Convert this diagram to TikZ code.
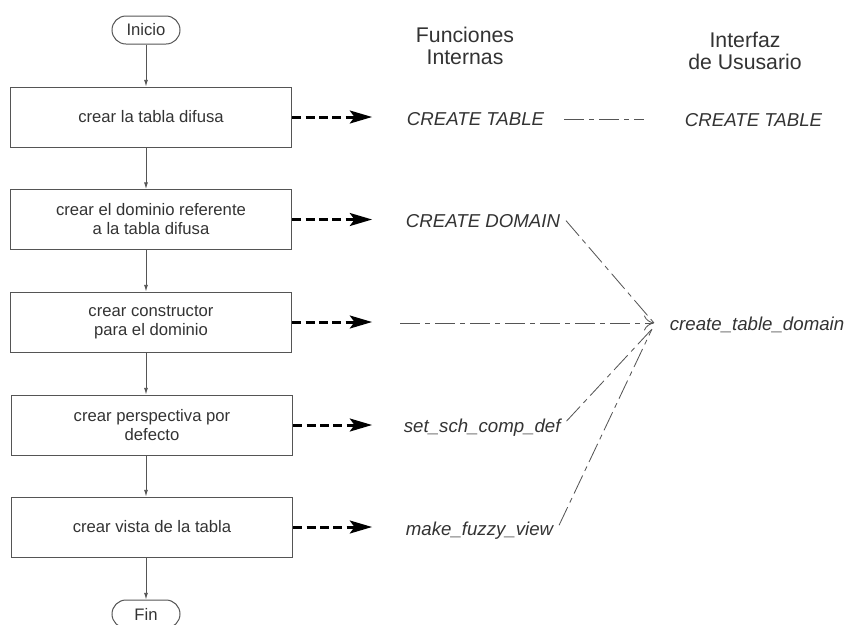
\documentclass[tikz,border=0pt]{standalone}
\usepackage{fontspec}
\setmainfont{Liberation Sans}
\usetikzlibrary{arrows.meta}
\usetikzlibrary{positioning}

\definecolor{tinta}{HTML}{333333}
\definecolor{borde}{HTML}{555555}

\tikzset{
    caja/.style={draw=borde, line width=0.6pt, minimum width=169pt, minimum height=36pt,
        align=center, text=tinta, font=\fontsize{10}{11.4}\selectfont},
    terminal/.style={draw=borde, line width=0.6pt, rounded corners=8.4pt, minimum width=40.8pt,
        minimum height=16.8pt, text=tinta, font=\fontsize{10}{12}\selectfont},
    paso/.style={draw=borde, line width=0.5pt, -{Latex[length=4pt,width=2.4pt]}},
    flecha/.style={draw=black, line width=1.8pt, dash pattern=on 5.4pt off 2.6pt,
        -{Stealth[length=13.5pt,width=8pt,inset=3pt,line width=0pt]}},
    enlace/.style={draw=borde, line width=0.5pt, dash pattern=on 12pt off 3pt on 3pt off 3pt},
    funcion/.style={anchor=base west, text=tinta, font=\fontsize{11.2}{13}\selectfont\itshape},
    titulo/.style={align=center, text=tinta, font=\fontsize{12.75}{13.5}\selectfont},
}

\begin{document}
\begin{tikzpicture}[x=0.6pt,y=-0.6pt]
    \useasboundingbox (0,0) rectangle (845,624);

    % flujo principal
    \node[terminal] (inicio) at (146,30) {Inicio};
    \node[caja] (tabla) at (151,117) {crear la tabla difusa};
    \node[caja] (dominio) at (151,219.5) {crear el dominio referente\\a la tabla difusa};
    \node[caja] (constructor) at (151,322) {crear constructor\\para el dominio};
    \node[caja] (perspectiva) at (152,425) {crear perspectiva por\\defecto};
    \node[caja] (vista) at (152,527) {crear vista de la tabla};
    \node[terminal] (fin) at (146,614) {Fin};

    \draw[paso] (inicio.south) -- (inicio.south |- tabla.north);
    \draw[paso] (inicio.south |- tabla.south) -- (inicio.south |- dominio.north);
    \draw[paso] (inicio.south |- dominio.south) -- (inicio.south |- constructor.north);
    \draw[paso] (inicio.south |- constructor.south) -- (inicio.south |- perspectiva.north);
    \draw[paso] (inicio.south |- perspectiva.south) -- (inicio.south |- vista.north);
    \draw[paso] (inicio.south |- vista.south) -- (fin.north);

    % flechas hacia las funciones
    \foreach \n in {tabla,dominio,constructor,perspectiva,vista}{
        \coordinate (\n-f) at (372,0 |- \n.east);
        \draw[flecha] (\n.east) -- (\n-f);
    }

    % columnas
    \node[titulo] (internas) at (465,46) {Funciones\\Internas};
    \node[titulo] (interfaz) at (745,51) {Interfaz\\de Ususario};

    \node[funcion] (ctable) at (401,125) {CREATE TABLE};
    \node[funcion] (cdomain) at (400,227) {CREATE DOMAIN};
    \node[funcion] (schcomp) at (398,432) {set\_sch\_comp\_def};
    \node[funcion] (fuzzy) at (400,535) {make\_fuzzy\_view};

    \node[funcion] (utable) at (679,126) {CREATE TABLE};
    \node[funcion] (udomain) at (664,330) {create\_table\_domain};

    % relaciones con la interfaz
    \coordinate (cruce) at (654,323);
    \coordinate (cruce2) at (652,329);
    \coordinate (desde) at (400,323);
    \draw[enlace] (ctable.east |- utable.west) ++(14,0) coordinate (t1) -- ++(80,0) coordinate (t2);
    \draw[enlace] (cdomain.east) -- (cruce);
    \draw[enlace, -{To[length=6pt,width=9pt]}] (desde) -- (cruce);
    \draw[enlace] (schcomp.east) ++(0,-6) -- (cruce2);
    \draw[enlace] (fuzzy.east) ++(0,-5) -- (cruce2);
\end{tikzpicture}
\end{document}
